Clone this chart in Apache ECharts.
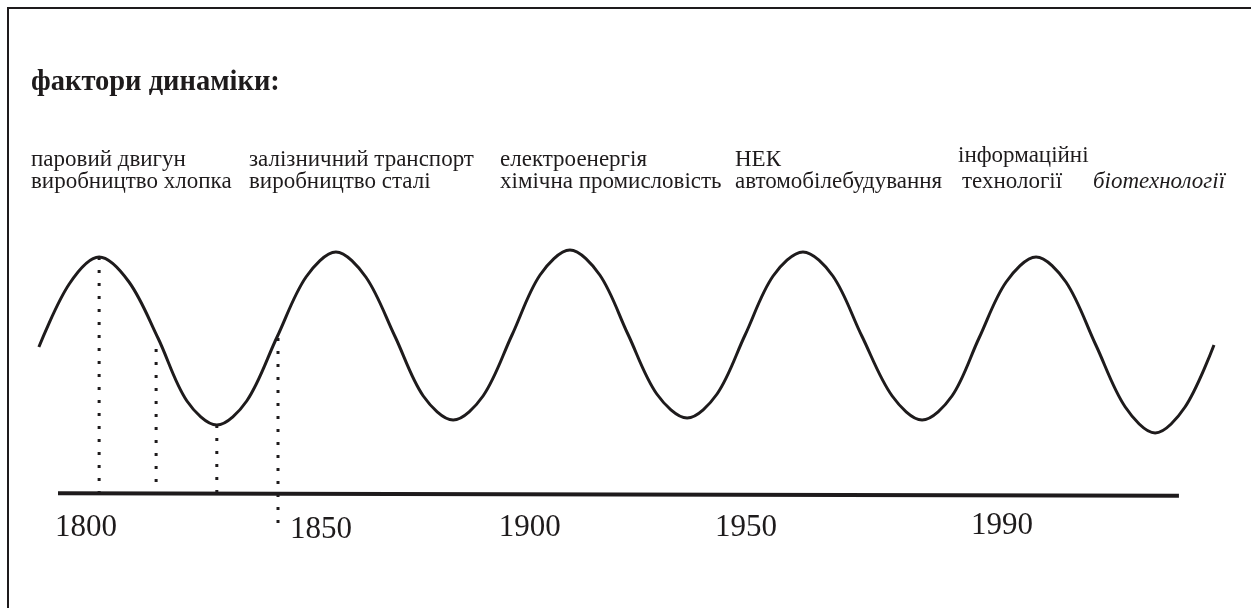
<!DOCTYPE html>
<html>
<head>
<meta charset="utf-8">
<script src="https://cdn.jsdelivr.net/npm/echarts@6/dist/echarts.min.js"></script>
<style>html,body{margin:0;padding:0;background:#fff}#c{width:1251px;height:608px}</style>
</head>
<body>
<div id="c"></div>
<script>
// --- data ---
const titleText = 'фактори динаміки:';
const factorLine1 = ['паровий двигун', 'залізничний транспорт', 'електроенергія', 'НЕК', 'інформаційні', ''];
const factorLine2 = ['виробництво хлопка', 'виробництво сталі', 'хімічна промисловість', 'автомобілебудування', 'технології', 'біотехнології'];
const yearLabels = ['1800', '1850', '1900', '1950', '1990'];
const yearLabelPos = [1796.0, 1846.3, 1891.0, 1937.3, 1992.1];
const yearLabelLevel = [-13.4, -14.4, -13.4, -13.6, -12.8];
// wave (x in years, y in relative level above the time axis)
const waveX = [1785.9, 1792.4, 1798.8, 1805.2, 1811.4, 1817.6, 1824.0, 1830.4, 1836.9, 1843.1, 1849.5, 1855.9, 1862.1, 1868.2, 1874.6, 1881.0, 1887.2, 1893.2, 1899.6, 1906.0, 1912.0, 1918.2, 1924.7, 1931.1, 1937.1, 1943.1, 1949.5, 1955.9, 1962.1, 1968.6, 1975.0, 1981.4, 1987.2, 1993.0, 1999.4, 2005.8, 2012.2, 2018.5, 2024.9, 2031.3, 2037.5];
const waveY = [58.8, 84.0, 94.8, 84.8, 62.4, 37.2, 27.6, 37.2, 62.8, 86.8, 96.8, 86.8, 63.2, 39.2, 29.6, 39.2, 63.6, 87.6, 97.6, 87.6, 64.0, 40.0, 30.4, 40.0, 63.6, 87.2, 96.8, 87.2, 63.2, 39.2, 29.6, 39.2, 62.4, 84.8, 94.8, 84.8, 59.6, 34.8, 24.4, 34.8, 59.6];
const axisX = [1790, 2030];
const axisY = [0.3, -0.7];
const dropX = [1798.8, 1811.0, 1824.0, 1837.1];
const dropTop = [94.8, 58.0, 27.6, 62.4];
const dropBottom = [0, 0, 0, -15.6];

// --- chart ---
const ink = '#1e1b1c';
const serif = '"Liberation Serif", "Times New Roman", serif';
const colLeft = [31, 249, 500, 735, 958, 1093];
const line1Top = [148, 148, 148, 148, 144, 148];
const line2Left = [31, 249, 500, 735, 962, 1093];
const fs = 23;

const titles = [{
  text: titleText, left: 31, top: 68, padding: 0,
  textStyle: {fontFamily: serif, fontSize: 28.5, fontWeight: 'bold', color: ink, lineHeight: 28.5}
}];
factorLine1.forEach((t, i) => {
  if (t) titles.push({text: t, left: colLeft[i], top: line1Top[i], padding: 0,
    textStyle: {fontFamily: serif, fontSize: fs, fontWeight: 'normal', color: ink, lineHeight: fs}});
});
factorLine2.forEach((t, i) => {
  titles.push({text: t, left: line2Left[i], top: 170, padding: 0,
    textStyle: {fontFamily: serif, fontSize: fs, fontWeight: 'normal', fontStyle: i === 5 ? 'italic' : 'normal', color: ink, lineHeight: fs}});
});

const series = [{
  type: 'line',
  data: waveX.map((x, i) => [x, waveY[i]]),
  smooth: 0.33,
  symbol: 'none',
  lineStyle: {color: ink, width: 3}
}, {
  type: 'line',
  data: axisX.map((x, i) => [x, axisY[i]]),
  symbol: 'none',
  lineStyle: {color: ink, width: 4, cap: 'butt'}
}, {
  type: 'scatter',
  data: yearLabelPos.map((x, i) => [x, yearLabelLevel[i]]),
  symbolSize: 0,
  itemStyle: {opacity: 1, color: ink},
  label: {
    show: true, position: 'inside', opacity: 1,
    formatter: p => yearLabels[p.dataIndex],
    fontFamily: serif, fontSize: 31, color: ink, lineHeight: 31,
    textBorderWidth: 0
  }
}];
dropX.forEach((x, i) => {
  series.push({
    type: 'line',
    data: [[x, dropTop[i]], [x, dropBottom[i]]],
    symbol: 'none',
    lineStyle: {color: ink, width: 3, type: [3, 10], cap: 'butt'}
  });
});

const chart = echarts.init(document.getElementById('c'), null, {renderer: 'canvas'});
chart.setOption({
  animation: false,
  backgroundColor: '#fff',
  title: titles,
  grid: {left: 30, right: 30, top: 44, bottom: 0},
  xAxis: {
    type: 'value', min: 1784, max: 2039, show: false,
    splitLine: {show: false}
  },
  yAxis: {
    type: 'value', min: -45.6, max: 180, show: false,
    splitLine: {show: false}
  },
  series: series,
  graphic: [{
    type: 'rect', silent: true,
    shape: {x: 8, y: 8, width: 1300, height: 700},
    style: {fill: 'none', stroke: ink, lineWidth: 2}
  }]
});
</script>
</body>
</html>
